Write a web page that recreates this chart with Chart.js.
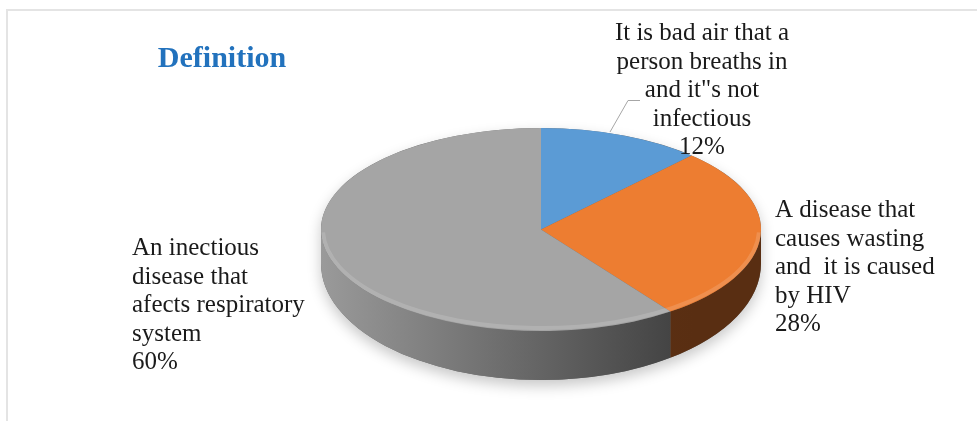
<!DOCTYPE html>
<html>
<head>
<meta charset="utf-8">
<script src="https://cdn.jsdelivr.net/npm/chart.js@4.4.1/dist/chart.umd.min.js"></script>
<style>
  html, body { margin: 0; padding: 0; background: #fff; }
  #wrap { position: relative; width: 977px; height: 421px; overflow: hidden; }
  #frame { position: absolute; left: 6px; top: 9px; width: 1200px; height: 600px;
           border-left: 2px solid #e4e4e4; border-top: 2px solid #e4e4e4; }
  #pie { position: absolute; left: 0; top: 0; }
</style>
</head>
<body>
<div id="wrap">
  <div id="frame"></div>
  <canvas id="pie" width="977" height="421"></canvas>
</div>
<script>
const chartTitle = 'Definition';
const categories = [
  ['It is bad air that a', 'person breaths in', 'and it"s not', 'infectious'],
  ['A disease that', 'causes wasting', 'and  it is caused', 'by HIV'],
  ['An inectious', 'disease that', 'afects respiratory', 'system']
];
const shares = [12, 28, 60];
const sliceColors = ['#5b9bd5', '#ed7d31', '#a5a5a5'];

// look of the fake 3d disc
const PIE_RX = 220;      // horizontal radius of the top face
const DEPTH_SIDE = 34;   // side height at the far left / right
const DEPTH_FRONT = 49;  // side height at the front

// where each data label goes
const labelSpots = [
  { x: 702, y: 40, align: 'center' },
  { x: 775, y: 217, align: 'left' },
  { x: 132, y: 255, align: 'left' }
];
const LINE_H = 28.6;

function frontPart(s, e) {
  const a0 = Math.max(s, 0), a1 = Math.min(e, Math.PI);
  return a1 > a0 ? [a0, a1] : null;
}

const disc3d = {
  id: 'disc3d',
  beforeDatasetsDraw(chart) {
    const ctx = chart.ctx;
    const meta = chart.getDatasetMeta(0);
    const arc0 = meta.data[0];
    const cx = arc0.x, cy = arc0.y, r = arc0.outerRadius;
    const rx = PIE_RX, ry = r;
    const ryB = ry + (DEPTH_FRONT - DEPTH_SIDE);
    chart.$disc = { cx, cy, rx, ry };

    // soft shadow under the whole disc
    ctx.save();
    ctx.beginPath();
    ctx.ellipse(cx, cy + DEPTH_SIDE, rx, ryB, 0, 0, Math.PI, false);
    ctx.ellipse(cx, cy, rx, ry, 0, Math.PI, 2 * Math.PI, false);
    ctx.closePath();
    ctx.shadowColor = 'rgba(0,0,0,0.22)';
    ctx.shadowBlur = 14;
    ctx.shadowOffsetY = 6;
    ctx.fillStyle = '#6a6a6a';
    ctx.fill();
    ctx.restore();

    // side walls
    const sideFills = [
      ['#3f6d97', '#2f557a'],
      ['#6c3917', '#592e12'],
      ['#9a9a9a', '#3e3e3e']
    ];
    meta.data.forEach((el, i) => {
      const part = frontPart(el.startAngle, el.endAngle);
      if (!part) return;
      const g = ctx.createLinearGradient(cx - rx, 0, cx + rx * 0.7, 0);
      g.addColorStop(0, sideFills[i][0]);
      g.addColorStop(1, sideFills[i][1]);
      ctx.save();
      ctx.beginPath();
      ctx.ellipse(cx, cy, rx, ry, 0, part[0], part[1], false);
      ctx.ellipse(cx, cy + DEPTH_SIDE, rx, ryB, 0, part[1], part[0], true);
      ctx.closePath();
      ctx.fillStyle = g;
      ctx.fill();
      ctx.restore();
    });

    // squash the library's round pie into the top face
    ctx.save();
    ctx.translate(cx, cy);
    ctx.scale(rx / r, 1);
    ctx.translate(-cx, -cy);
  },
  afterDatasetsDraw(chart) {
    const ctx = chart.ctx;
    ctx.restore();
    const d = chart.$disc;
    // faint bevel along the front rim
    ctx.save();
    ctx.beginPath();
    ctx.ellipse(d.cx, d.cy, d.rx - 2, d.ry - 3, 0, 0.03, Math.PI - 0.03, false);
    ctx.strokeStyle = 'rgba(255,255,255,0.14)';
    ctx.lineWidth = 4;
    ctx.stroke();
    ctx.restore();
  },
  afterDraw(chart) {
    const ctx = chart.ctx;
    ctx.save();
    ctx.font = 'bold 30px "Liberation Serif", "Times New Roman", serif';
    ctx.fillStyle = '#2272bd';
    ctx.textAlign = 'center';
    ctx.textBaseline = 'alphabetic';
    ctx.fillText(chartTitle, 222, 67);

    // leader line for the small slice
    ctx.strokeStyle = '#a6a6a6';
    ctx.lineWidth = 1;
    ctx.beginPath();
    ctx.moveTo(610, 132);
    ctx.lineTo(628, 100.5);
    ctx.lineTo(640, 100.5);
    ctx.stroke();

    ctx.font = '25px "Liberation Serif", "Times New Roman", serif';
    ctx.fillStyle = '#1a1a1a';
    categories.forEach((lines, i) => {
      const spot = labelSpots[i];
      ctx.textAlign = spot.align;
      const all = lines.concat([shares[i] + '%']);
      all.forEach((t, k) => ctx.fillText(t, spot.x, spot.y + k * LINE_H));
    });
    ctx.restore();
  }
};

new Chart(document.getElementById('pie'), {
  type: 'pie',
  data: {
    labels: categories.map(c => c.join(' ')),
    datasets: [{
      data: shares,
      backgroundColor: sliceColors,
      borderWidth: 0,
      clip: false
    }]
  },
  options: {
    responsive: false,
    animation: false,
    events: [],
    layout: { padding: { left: 322, right: 217, top: 128, bottom: 90 } },
    plugins: {
      legend: { display: false },
      tooltip: { enabled: false }
    }
  },
  plugins: [disc3d]
});
</script>
</body>
</html>
